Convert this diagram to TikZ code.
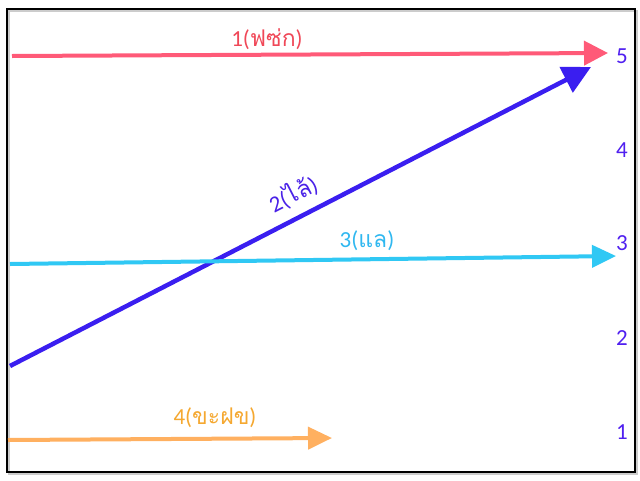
\documentclass[tikz,border=0pt]{standalone}
\usepackage{fontspec}
\setmainfont{Carlito}
\newfontfamily\thaifont[Script=Thai]{Loma}
\usetikzlibrary{arrows.meta}
\definecolor{cpink}{HTML}{FF5A78}
\definecolor{cpinkt}{HTML}{F04858}
\definecolor{cblue}{HTML}{3A1EF0}
\definecolor{cbluet}{HTML}{4A22E8}
\definecolor{ccyan}{HTML}{30C8F4}
\definecolor{ccyant}{HTML}{30B8F0}
\definecolor{corange}{HTML}{FFB060}
\definecolor{corangt}{HTML}{F5A830}
\definecolor{cnum}{HTML}{5020F0}
\begin{document}
\begin{tikzpicture}[x=1pt,y=-1pt,
  arr/.style={line width=4pt,-{Triangle[length=24pt,width=24pt]}},
  lbl/.style={font=\fontsize{23}{26}\selectfont,inner sep=0pt},
  num/.style={font=\fontsize{23}{26}\selectfont,text=cnum,inner sep=0pt}]
\useasboundingbox (0,0) rectangle (640,480);
\fill[white] (0,0) rectangle (640,480);
\draw[black!20,line width=1.5pt] (9,11) rectangle (637,474);
\draw[black,line width=1.8pt] (7,9) rectangle (635,472);
% coordinates
\coordinate (a1) at (12,56);   \coordinate (b1) at (608,53);
\coordinate (a2) at (10,366);  \coordinate (b2) at (591,67);
\coordinate (a3) at (10,264);  \coordinate (b3) at (616,256);
\coordinate (a4) at (8,440);   \coordinate (b4) at (332,438);
\draw[arr,cpink] (a1) -- (b1);
\draw[line width=4.5pt,cblue,-{Triangle[length=28pt,width=28pt]}] (a2) -- (b2);
\draw[arr,ccyan,-{Triangle[length=24pt,width=22pt]}] (a3) -- (b3);
\draw[arr,corange,-{Triangle[length=24pt,width=22pt]}] (a4) -- (b4);
% labels
\node[lbl,text=cpinkt] (l1) at (267,39) {1({\thaifont ฟซ่ก})};
\node[lbl,text=cbluet,rotate=27.2] (l2) at (293,194) {2({\thaifont ไล้})};
\node[lbl,text=ccyant] (l3) at (367,241) {3({\thaifont แล})};
\node[lbl,text=corangt] (l4) at (215,418) {4({\thaifont ขะฝข})};
% right numbers
\node[num] (n5) at (622,56) {5};
\node[num] (n4) at (622,150) {4};
\node[num] (n3) at (622,243) {3};
\node[num] (n2) at (622,338) {2};
\node[num] (n1) at (622,432) {1};
\end{tikzpicture}
\end{document}
